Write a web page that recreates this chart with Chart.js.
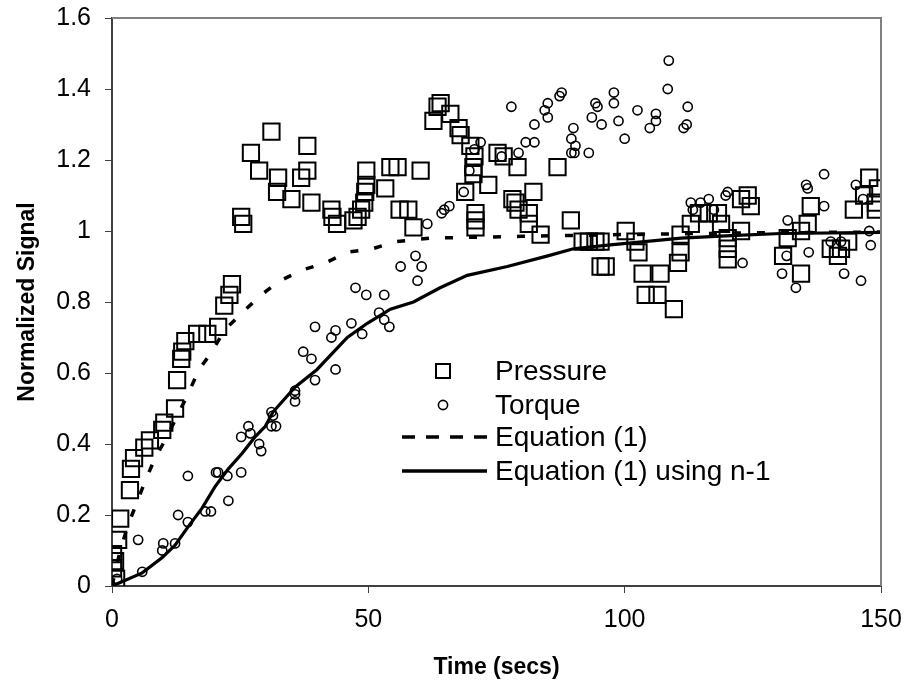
<!DOCTYPE html>
<html lang="en">
<head>
<meta charset="UTF-8">
<title>Normalized Signal vs Time</title>
<script src="https://cdn.jsdelivr.net/npm/chart.js@4.4.1/dist/chart.umd.min.js"></script>
<style>
  html, body { margin: 0; padding: 0; background: #fff; }
  #wrap { width: 909px; height: 691px; }
</style>
</head>
<body>
<div id="wrap"><canvas id="chart" width="909" height="691"></canvas></div>
<script>
// data: [time (secs), normalized signal]
var pressure = [[0.8,0.02],[0.2,0.05],[0.6,0.07],[0.2,0.09],[1.2,0.13],[1.6,0.19],[3.5,0.27],[3.7,0.33],[4.3,0.36],[6.3,0.39],
  [7.4,0.41],[9.8,0.44],[10.2,0.46],[12.3,0.50],[12.7,0.58],[13.5,0.64],[13.7,0.66],[14.3,0.69],[16.6,0.71],[18.6,0.71],
  [20.7,0.73],[21.9,0.79],[22.9,0.82],[23.4,0.85],[25.2,1.04],[25.6,1.02],[27.1,1.22],[31.1,1.28],[28.7,1.17],[32.4,1.15],
  [32.2,1.11],[35.0,1.09],[36.9,1.15],[38.1,1.17],[38.1,1.24],[38.9,1.08],[42.8,1.06],[43.0,1.04],[43.9,1.02],[47.1,1.03],
  [47.9,1.04],[49.6,1.17],[49.6,1.13],[49.4,1.11],[49.2,1.08],[48.6,1.06],[53.3,1.12],[54.3,1.18],[55.7,1.18],[60.2,1.17],
  [56.1,1.06],[57.8,1.06],[58.8,1.01],[64.1,1.36],[63.5,1.35],[62.7,1.31],[66.0,1.33],[67.6,1.29],[68.0,1.27],[69.9,1.24],
  [70.7,1.21],[70.5,1.18],[70.5,1.16],[68.9,1.11],[73.4,1.13],[75.2,1.22],[76.4,1.21],[79.1,1.18],[86.9,1.18],[70.9,1.05],
  [70.9,1.03],[70.9,1.01],[78.1,1.09],[78.7,1.08],[79.3,1.06],[82.2,1.11],[81.3,1.05],[81.3,1.02],[83.6,0.99],[89.5,1.03],
  [91.8,0.97],[93.0,0.97],[94.3,0.97],[95.3,0.97],[95.3,0.90],[96.3,0.90],[100.2,1.00],[102.1,0.97],[102.7,0.94],[103.5,0.88],
  [104.1,0.82],[106.4,0.82],[107.0,0.88],[109.6,0.78],[110.4,0.91],[110.9,0.94],[110.9,0.99],[112.9,1.02],[114.5,1.05],[116.4,1.05],
  [118.2,1.05],[118.8,1.02],[120.1,0.98],[120.1,0.95],[120.1,0.92],[122.7,1.09],[124.0,1.10],[124.6,1.07],[122.7,1.00],[136.3,1.07],
  [135.7,1.02],[134.4,1.00],[131.8,0.98],[130.9,0.93],[134.4,0.88],[140.2,0.95],[142.2,0.95],[143.6,0.97],[141.6,0.93],[144.7,1.06],
  [146.7,1.10],[147.7,1.15],[149.4,1.12],[149.0,1.08],[149.0,1.06]];

var torque = [[1.0,0.02],[5.9,0.04],[5.1,0.13],[9.8,0.10],[10.0,0.12],[12.3,0.12],[12.9,0.20],[14.8,0.18],[14.8,0.31],[18.2,0.21],
  [19.3,0.21],[20.3,0.32],[20.7,0.32],[22.5,0.31],[22.7,0.24],[25.2,0.32],[25.2,0.42],[26.6,0.45],[27.0,0.43],[28.7,0.40],
  [29.1,0.38],[31.1,0.49],[31.4,0.48],[32.0,0.45],[31.1,0.45],[35.7,0.55],[35.7,0.54],[35.7,0.52],[39.6,0.58],[37.3,0.66],
  [38.9,0.64],[39.6,0.73],[43.6,0.72],[42.8,0.70],[43.6,0.61],[46.7,0.74],[48.8,0.71],[52.1,0.77],[53.1,0.75],[54.1,0.73],
  [47.5,0.84],[49.6,0.82],[53.1,0.82],[56.3,0.90],[59.2,0.93],[60.4,0.90],[59.6,0.86],[61.5,1.02],[64.3,1.05],[64.8,1.06],
  [65.8,1.07],[68.6,1.11],[69.7,1.17],[70.7,1.23],[71.9,1.25],[76.0,1.21],[77.9,1.35],[79.3,1.22],[80.7,1.25],[82.4,1.25],
  [82.4,1.30],[84.4,1.34],[85.0,1.36],[85.0,1.32],[87.3,1.38],[87.7,1.39],[90.0,1.29],[89.6,1.26],[90.4,1.24],[89.6,1.22],
  [90.2,1.22],[93.0,1.22],[93.6,1.32],[94.3,1.36],[94.7,1.35],[95.5,1.30],[97.9,1.39],[97.9,1.36],[98.8,1.31],[100.0,1.26],
  [102.5,1.34],[106.1,1.33],[106.1,1.31],[104.9,1.29],[108.6,1.48],[108.4,1.40],[112.3,1.35],[111.5,1.29],[112.1,1.30],[112.9,1.08],
  [114.8,1.08],[116.4,1.09],[119.7,1.10],[120.1,1.11],[117.4,1.06],[113.3,1.06],[123.0,0.91],[131.8,1.03],[131.6,0.93],[130.7,0.88],
  [133.4,0.84],[135.9,0.94],[135.4,1.13],[135.7,1.12],[138.9,1.16],[138.9,1.07],[140.2,0.97],[142.2,0.97],[142.8,0.88],[146.1,0.86],
  [147.7,1.00],[148.0,0.96],[145.1,1.13],[146.5,1.09]];

var equation1 = [[0,0],[1.6,0.10],[3.1,0.17],[4.7,0.23],[6.6,0.30],[8.4,0.36],[10.7,0.42],[13.1,0.49],[14.8,0.54],[17,0.61],
  [19.5,0.66],[21.9,0.72],[25.4,0.77],[29.1,0.82],[32.8,0.86],[37.1,0.89],[41.6,0.91],[45.9,0.94],[50.8,0.95],[55.3,0.97],
  [62,0.98],[80,0.985],[100,0.99],[125,0.995],[150,0.997]];

var equation1n1 = [[0,0],[1.6,0.01],[5.9,0.037],[9.8,0.08],[12.3,0.115],[14.8,0.166],[17.6,0.22],[20.1,0.28],[22.7,0.33],[25.4,0.374],
  [27.9,0.42],[29.9,0.45],[31.4,0.49],[35.7,0.56],[40,0.61],[45.9,0.70],[49.8,0.74],[54.3,0.78],[58.8,0.80],[64,0.84],
  [69.3,0.875],[77.1,0.90],[85,0.93],[90,0.95],[96.7,0.96],[111,0.98],[120.7,0.987],[130.5,0.993],[150,0.996]];

var xTicks = [0, 50, 100, 150];
var yTicks = [0, 0.2, 0.4, 0.6, 0.8, 1, 1.2, 1.4, 1.6];
var legendLabels = ['Pressure', 'Torque', 'Equation (1)', 'Equation (1) using n-1'];

function pts(arr) {
  return arr.map(function(p) { return {x: p[0], y: p[1]}; });
}

var FONT = '"Liberation Sans", Arial, sans-serif';

// frame (top/right) and the legend inside the plot
var extras = {
  id: 'extras',
  afterDatasetsDraw: function(chart) {
    var ctx = chart.ctx;
    var a = chart.chartArea;
    ctx.save();
    ctx.strokeStyle = '#808080';
    ctx.lineWidth = 2;
    ctx.beginPath();
    ctx.moveTo(a.left, a.top);
    ctx.lineTo(a.right, a.top);
    ctx.lineTo(a.right, a.bottom);
    ctx.stroke();

    // legend
    var lx = 402, lx2 = 487, tx = 495;
    var rows = [371, 405, 437, 471];
    ctx.strokeStyle = '#000';
    ctx.lineWidth = 2;
    ctx.strokeRect(443 - 7, rows[0] - 7, 14, 14);
    ctx.lineWidth = 1.6;
    ctx.beginPath();
    ctx.arc(443, rows[1], 4.6, 0, Math.PI * 2);
    ctx.stroke();
    ctx.lineWidth = 3.5;
    ctx.setLineDash([13, 11]);
    ctx.beginPath();
    ctx.moveTo(lx, rows[2]);
    ctx.lineTo(lx2, rows[2]);
    ctx.stroke();
    ctx.setLineDash([]);
    ctx.lineWidth = 3.5;
    ctx.beginPath();
    ctx.moveTo(lx, rows[3]);
    ctx.lineTo(lx2, rows[3]);
    ctx.stroke();

    ctx.fillStyle = '#000';
    ctx.font = '28px ' + FONT;
    ctx.textBaseline = 'middle';
    ctx.textAlign = 'left';
    for (var i = 0; i < legendLabels.length; i++) {
      ctx.fillText(legendLabels[i], tx, rows[i] + 1);
    }
    ctx.restore();
  }
};

var axisColor = '#404040';

new Chart(document.getElementById('chart'), {
  type: 'scatter',
  data: {
    datasets: [
      {
        label: 'Equation (1) using n-1',
        data: pts(equation1n1),
        showLine: true,
        borderColor: '#000',
        borderWidth: 3.2,
        pointRadius: 0,
        tension: 0,
        order: 1
      },
      {
        label: 'Equation (1)',
        data: pts(equation1),
        showLine: true,
        borderColor: '#000',
        borderWidth: 3.5,
        borderDash: [8, 16],
        pointRadius: 0,
        tension: 0,
        order: 2
      },
      {
        label: 'Torque',
        data: pts(torque),
        pointStyle: 'circle',
        pointRadius: 4.6,
        pointBorderWidth: 1.6,
        borderColor: '#000',
        backgroundColor: 'rgba(0,0,0,0)',
        order: 3
      },
      {
        label: 'Pressure',
        data: pts(pressure),
        pointStyle: 'rect',
        pointRadius: 11.5,
        pointBorderWidth: 2,
        borderColor: '#000',
        backgroundColor: 'rgba(0,0,0,0)',
        order: 4
      }
    ]
  },
  options: {
    responsive: false,
    animation: false,
    devicePixelRatio: 1,
    layout: { padding: { left: 0, right: 28, top: 18, bottom: 0 } },
    plugins: {
      legend: { display: false },
      tooltip: { enabled: false }
    },
    scales: {
      x: {
        type: 'linear',
        min: 0,
        max: 150,
        afterBuildTicks: function(scale) {
          scale.ticks = xTicks.map(function(v) { return {value: v}; });
        },
        afterFit: function(scale) {
          scale.height = 105;
          scale.paddingLeft = 0;
          scale.paddingRight = 0;
        },
        grid: { drawOnChartArea: false, drawTicks: true, tickLength: 7, color: axisColor },
        border: { display: true, color: axisColor, width: 2 },
        ticks: {
          color: '#000',
          font: { family: FONT, size: 25 },
          padding: 12,
          maxRotation: 0,
          callback: function(v) { return String(v); }
        },
        title: {
          display: true,
          text: 'Time (secs)',
          color: '#000',
          font: { family: FONT, size: 23, weight: 'bold' },
          padding: { top: 0, bottom: 10 }
        }
      },
      y: {
        type: 'linear',
        min: 0,
        max: 1.6,
        afterBuildTicks: function(scale) {
          scale.ticks = yTicks.map(function(v) { return {value: v}; });
        },
        afterFit: function(scale) {
          scale.width = 112;
          scale.paddingTop = 0;
          scale.paddingBottom = 0;
        },
        grid: { drawOnChartArea: false, drawTicks: true, tickLength: 7, color: axisColor },
        border: { display: true, color: axisColor, width: 2 },
        ticks: {
          color: '#000',
          font: { family: FONT, size: 25 },
          padding: 14,
          callback: function(v) { return String(Math.round(v * 10) / 10); }
        },
        title: {
          display: true,
          text: 'Normalized Signal',
          color: '#000',
          font: { family: FONT, size: 23, weight: 'bold' },
          padding: { top: 14, bottom: 0 }
        }
      }
    }
  },
  plugins: [extras]
});
</script>
</body>
</html>
